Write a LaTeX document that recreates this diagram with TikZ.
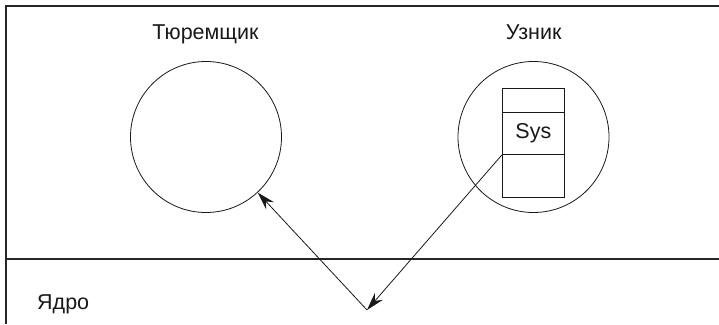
\documentclass[tikz,border=0pt]{standalone}
\usepackage{fontspec}
\setmainfont{Liberation Sans}
\usetikzlibrary{arrows.meta}
\begin{document}
\begin{tikzpicture}[x=1pt,y=-1pt,
  frameline/.style={line width=1.3pt, draw=black!85},
  ring/.style={circle, draw=black!90, line width=0.8pt, minimum size=151pt, inner sep=0pt},
  cell/.style={draw=black!90, line width=0.8pt, minimum width=62pt, inner sep=0pt, anchor=north west},
  lbl/.style={font=\fontsize{21.5}{25}\selectfont, inner sep=0pt, text=black!90},
  arr/.style={-{Stealth[length=18pt,width=10.5pt,inset=6pt]}, line width=0.8pt, draw=black!90}]
\useasboundingbox (0,0) rectangle (719,324);
% frame
\draw[frameline] (6,324) -- (6,6) -- (719,6);
\draw[frameline] (6,259) -- (719,259);
% labels
\node[lbl, anchor=base] (tj) at (205.5,39) {Тюремщик};
\node[lbl, anchor=base] (uz) at (533.7,39) {Узник};
\node[lbl, anchor=base west] (yd) at (37,309) {Ядро};
% circles
\node[ring] (lc) at (206,137) {};
\node[ring] (rc) at (533.5,137) {};
% stack
\node[cell, minimum height=24pt] (c1) at (502,88) {};
\node[cell, minimum height=42pt, lbl] (c2) at (502,112) {Sys};
\node[cell, minimum height=43pt] (c3) at (502,154) {};
% arrows
\coordinate (v) at (367,310);
\draw[arr] (c2.south west) -- (v);
\draw[arr] (v) -- (lc);
\end{tikzpicture}
\end{document}
